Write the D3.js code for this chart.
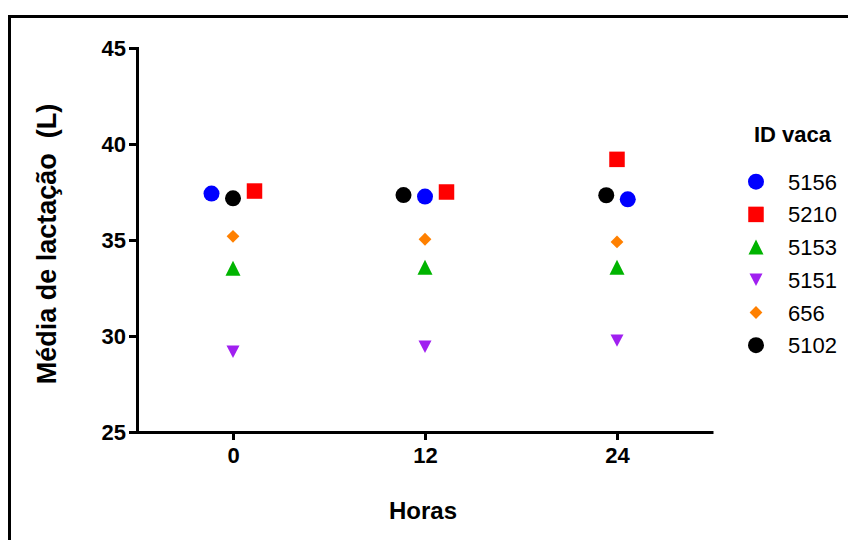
<!DOCTYPE html>
<html>
<head>
<meta charset="utf-8">
<script src="https://cdn.jsdelivr.net/npm/d3@7"></script>
<style>
  body { margin: 0; background: #fff; }
  text { font-family: Arial, "Liberation Sans", sans-serif; }
</style>
</head>
<body>
<script>
// horas de medição
const hours = [0, 12, 24];
const xTicks = [0, 12, 24];
const yTicks = [25, 30, 35, 40, 45];

// vacas (ordem da legenda)
const cows = ["5156", "5210", "5153", "5151", "656", "5102"];
const cowColors = ["#0000ff", "#ff0000", "#00b400", "#a020f0", "#ff8000", "#000000"];
const cowShapes = ["circle", "square", "triangle", "down", "diamond", "circle"];

// média de lactação (L) por vaca, em 0, 12 e 24 h
const v5156 = [37.42, 37.26, 37.12];
const v5210 = [37.55, 37.50, 39.20];
const v5153 = [33.53, 33.58, 33.58];
const v5151 = [29.18, 29.44, 29.76];
const v656  = [35.19, 35.04, 34.90];
const v5102 = [37.17, 37.34, 37.33];
const values = [v5156, v5210, v5153, v5151, v656, v5102];

// faixa da coluna (pontos sobrepostos afastados lado a lado)
const lanes = [
  [-1, 0, 0.5],
  [1, 1, 0],
  [0, 0, 0],
  [0, 0, 0],
  [0, 0, 0],
  [0, -1, -0.5]
];

const W = 848, H = 540;
const laneGap = 21.5;

const svg = d3.select("body").append("svg")
  .attr("width", W)
  .attr("height", H);

// moldura
svg.append("rect")
  .attr("x", 9.5).attr("y", 16.5)
  .attr("width", 1000).attr("height", 1000)
  .attr("fill", "none")
  .attr("stroke", "#000")
  .attr("stroke-width", 3);

const x = d3.scaleLinear().domain([-6, 30]).range([137, 713]);
const y = d3.scaleLinear().domain([25, 45]).range([432, 48]);

function shapePath(kind) {
  switch (kind) {
    case "circle": return d3.symbol(d3.symbolCircle, Math.PI * 8 * 8)();
    case "square": return d3.symbol(d3.symbolSquare, 15.5 * 15.5)();
    case "triangle": return "M0,-7.5L7.5,7.5L-7.5,7.5Z";
    case "down": return "M-6.5,-6.2L6.5,-6.2L0,6.2Z";
    case "diamond": return "M0,-6.4L6.4,0L0,6.4L-6.4,0Z";
  }
}

// eixos
const yAxis = svg.append("g")
  .attr("transform", `translate(${x(-6)},0)`)
  .call(d3.axisLeft(y).tickValues(yTicks).tickSize(8).tickSizeOuter(0).tickPadding(3));

const xAxis = svg.append("g")
  .attr("transform", `translate(0,${y(25)})`)
  .call(d3.axisBottom(x).tickValues(xTicks).tickSize(8).tickSizeOuter(0).tickPadding(7));

[yAxis, xAxis].forEach(g => {
  g.selectAll("path, line").attr("stroke", "#000").attr("stroke-width", 3);
  g.selectAll("text")
    .attr("fill", "#000")
    .style("font-size", "22px")
    .style("font-weight", "bold");
});
yAxis.select(".domain").attr("stroke-linecap", "square");

// títulos dos eixos
svg.append("text")
  .attr("x", 423).attr("y", 519)
  .attr("text-anchor", "middle")
  .style("font-size", "24px")
  .style("font-weight", "bold")
  .text("Horas");

svg.append("text")
  .attr("transform", "translate(56,244) rotate(-90)")
  .attr("text-anchor", "middle")
  .style("font-size", "27px")
  .style("font-weight", "bold")
  .style("white-space", "pre")
  .attr("xml:space", "preserve")
  .text("Média de lactação  (L)");

// pontos
const points = [];
cows.forEach((c, i) => {
  hours.forEach((h, j) => {
    points.push({ cow: i, hour: h, value: values[i][j], lane: lanes[i][j] });
  });
});

svg.append("g").selectAll("path")
  .data(points)
  .join("path")
  .attr("d", d => shapePath(cowShapes[d.cow]))
  .attr("transform", d => `translate(${x(d.hour) + d.lane * laneGap},${y(d.value)})`)
  .attr("fill", d => cowColors[d.cow]);

// legenda
const legend = svg.append("g");
legend.append("text")
  .attr("x", 754).attr("y", 142)
  .style("font-size", "22px")
  .style("font-weight", "bold")
  .text("ID vaca");

const rows = legend.selectAll("g.row")
  .data(cows)
  .join("g")
  .attr("class", "row")
  .attr("transform", (d, i) => `translate(756,${181.7 + i * 32.7})`);

rows.append("path")
  .attr("d", (d, i) => shapePath(cowShapes[i]))
  .attr("fill", (d, i) => cowColors[i]);

rows.append("text")
  .attr("x", 32).attr("y", 8)
  .style("font-size", "22px")
  .text(d => d);
</script>
</body>
</html>
